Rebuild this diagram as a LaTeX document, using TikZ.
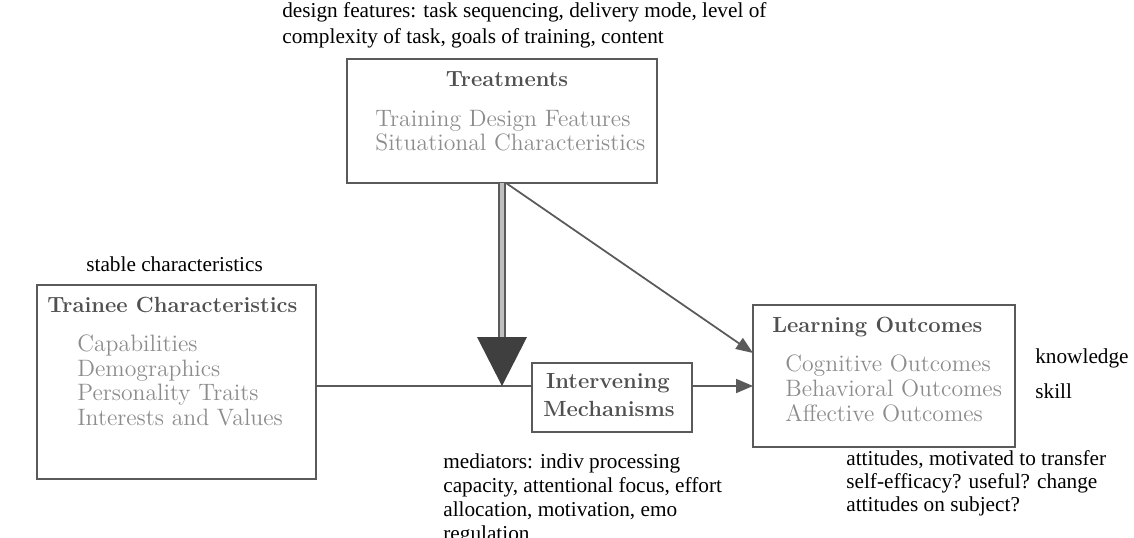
\documentclass[tikz,border=0pt]{standalone}
\usepackage{fontspec}
\newfontfamily\notefont{Liberation Serif}
\usetikzlibrary{arrows.meta}
\definecolor{boxgray}{HTML}{5A5A5A}
\definecolor{titlegray}{HTML}{505050}
\definecolor{itemgray}{HTML}{8C8C8C}
\tikzset{box/.style={draw=boxgray, line width=1pt, rectangle, inner sep=0pt, outer sep=0pt},
  title/.style={font=\fontsize{12.5}{14}\selectfont\bfseries, text=titlegray, inner sep=0pt},
  item/.style={font=\fontsize{13.5}{14}\selectfont, text=itemgray, inner sep=0pt, anchor=mid west},
  note/.style={font=\notefont\fontsize{12.1}{13.5}\selectfont, inner sep=0pt, anchor=mid west},
  conn/.style={draw=boxgray, line width=1pt}}

\begin{document}
\begin{tikzpicture}[x=0.02cm, y=-0.02cm]
		\clip (0,0) rectangle (1134,538);
		
		\node[box, minimum width=6.2cm, minimum height=2.48cm] (treat) at (502,121) {};
		\node[box, minimum width=5.58cm, minimum height=3.88cm] (trainee) at (176.5,382) {};
		\node[box, minimum width=3.2cm, minimum height=1.38cm] (inter) at (612,397.5) {};
		\node[box, minimum width=5.24cm, minimum height=2.84cm] (learn) at (884,376) {};
		
		\node[title, anchor=mid] (treat-t) at (507,83) {Treatments};
		\node[item] (treat-1) at (375,123) {Training Design Features};
		\node[item] (treat-2) at (375,147) {Situational Characteristics};
		
		\node[title, anchor=mid west] (trainee-t) at (47,309) {Trainee Characteristics};
		\foreach \t [count=\i] in {Capabilities, Demographics, Personality Traits, Interests and Values}
			\node[item] (trainee-\i) at (77,{348+24.5*(\i-1)}) {\t};
		
		\node[title, anchor=mid] (inter-1) at (608,385) {Intervening};
		\node[title, anchor=mid] (inter-2) at (609,413) {Mechanisms};
		
		\node[title, anchor=mid west] (learn-t) at (772,329) {Learning Outcomes};
		\foreach \t [count=\i] in {Cognitive Outcomes, Behavioral Outcomes, Affective Outcomes}
			\node[item] (learn-\i) at (785,{368+25*(\i-1)}) {\t};
		
		\foreach \t [count=\i] in {{design features: task sequencing, delivery mode, level of},{complexity of task, goals of training, content}}
			\node[note] (design-\i) at (282,{14+26*(\i-1)}) {\t};
		\node[note] (stable) at (86,268) {stable characteristics};
		\node[note] (know) at (1035,360) {knowledge};
		\node[note] (skill) at (1035,395) {skill};
		\foreach \t [count=\i] in {{mediators: indiv processing},{capacity, attentional focus, effort},{allocation, motivation, emo},{regulation}}
			\node[note] (medi-\i) at (443,{465+24*(\i-1)}) {\t};
		\foreach \t [count=\i] in {{attitudes, motivated to transfer},{self-efficacy? useful? change},{attitudes on subject?}}
			\node[note] (attit-\i) at (846,{462+23*(\i-1)}) {\t};
		
		\coordinate (merge) at (502,386);
		\draw[conn] (trainee.east |- merge) -- (inter.west |- merge);
		\draw[conn, double=black!25, double distance=2.4pt, line width=0.8pt, shorten >=0.96cm] (treat.south -| merge) -- (merge);
		\fill[boxgray!70!black] (merge) -- ++(-25,-49) -- ++(50,0) -- cycle;
		\draw[conn, -{Triangle[length=0.34cm, width=0.26cm]}] ([xshift=0.08cm]treat.south -| merge) -- ([yshift=0.46cm]learn.west);
		\draw[conn, -{Triangle[length=0.34cm, width=0.28cm]}] (inter.east |- merge) -- (learn.west |- merge);
	\end{tikzpicture}
\end{document}
